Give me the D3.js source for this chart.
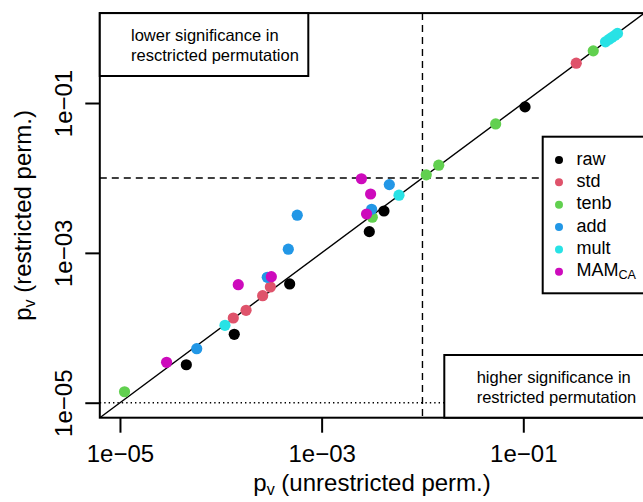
<!DOCTYPE html>
<html>
<head>
<meta charset="utf-8">
<script src="https://cdn.jsdelivr.net/npm/d3@7"></script>
<style>
  body { margin: 0; background: #fff; }
  svg { display: block; font-family: "Liberation Sans", Arial, sans-serif; }
</style>
</head>
<body>
<div id="chart"></div>
<script>
// p-values: unrestricted permutation (x) vs restricted permutation (y), per method
const methods = ['raw', 'std', 'tenb', 'add', 'mult', 'MAM'];
const methodColors = ['#000000', '#DF536B', '#61D04F', '#2297E6', '#28E2E5', '#CD0BBC'];

const rawUnres = [0.104, 0.00415, 0.00297, 0.000482, 0.000136, 4.55e-5];
const rawRes   = [0.0887, 0.00362, 0.00192, 0.000385, 8.18e-5, 3.21e-5];
const stdUnres = [0.335, 0.00031, 0.00026, 0.000178, 0.000133];
const stdRes   = [0.340, 0.000351, 0.000268, 0.000171, 0.000135];
const tenbUnres = [0.494, 0.0532, 0.0145, 0.0109, 0.00318, 1.11e-5];
const tenbRes   = [0.497, 0.0526, 0.0148, 0.0110, 0.00299, 1.40e-5];
const addUnres = [0.00469, 0.00313, 0.000573, 0.000467, 0.000289, 5.77e-5];
const addRes   = [0.00815, 0.00382, 0.00318, 0.00112, 0.000472, 5.26e-5];
const multUnres = [0.00585, 0.00011, 0.653, 0.708, 0.757, 0.811, 0.859];
const multRes   = [0.00588, 0.000108, 0.655, 0.706, 0.752, 0.800, 0.849];
const mamUnres = [0.00248, 0.00306, 0.00279, 0.000317, 0.000149, 2.9e-5];
const mamRes   = [0.00975, 0.0061, 0.0033, 0.000481, 0.000376, 3.46e-5];

const unresByMethod = [rawUnres, stdUnres, tenbUnres, addUnres, multUnres, mamUnres];
const resByMethod = [rawRes, stdRes, tenbRes, addRes, multRes, mamRes];

const tickValues = [1e-5, 1e-3, 1e-1];
const tickLabels = ['1e\u221205', '1e\u221203', '1e\u221201'];
const alphaLevel = 0.01;     // dashed reference lines
const minPossible = 1e-5;    // dotted reference line

const W = 643, H = 502;
const L = 99.8, R = 644.3, T = 13.1, B = 417.7;
const textColor = '#000';

const svg = d3.select('#chart').append('svg')
  .attr('width', W).attr('height', H)
  .attr('viewBox', `0 0 ${W} ${H}`);

const x = d3.scaleLog().domain([10 ** -5.2, 10 ** 0.2]).range([L, R]);
const y = d3.scaleLog().domain([10 ** -5.2, 10 ** 0.2]).range([B, T]);

svg.append('clipPath').attr('id', 'plot-clip')
  .append('rect').attr('x', L).attr('y', T).attr('width', R - L).attr('height', B - T);

const plot = svg.append('g').attr('clip-path', 'url(#plot-clip)');

// 1:1 line
plot.append('line')
  .attr('x1', x(10 ** -5.2)).attr('y1', y(10 ** -5.2))
  .attr('x2', x(10 ** 0.2)).attr('y2', y(10 ** 0.2))
  .attr('stroke', '#000').attr('stroke-width', 1.4);

// significance threshold lines
plot.append('line')
  .attr('x1', x(alphaLevel)).attr('x2', x(alphaLevel)).attr('y1', T).attr('y2', B)
  .attr('stroke', '#000').attr('stroke-width', 1.4).attr('stroke-dasharray', '7,5');
plot.append('line')
  .attr('x1', L).attr('x2', R).attr('y1', y(alphaLevel)).attr('y2', y(alphaLevel))
  .attr('stroke', '#000').attr('stroke-width', 1.4).attr('stroke-dasharray', '7,5');
plot.append('line')
  .attr('x1', L).attr('x2', R).attr('y1', y(minPossible)).attr('y2', y(minPossible))
  .attr('stroke', '#000').attr('stroke-width', 1.4).attr('stroke-dasharray', '1.4,3');

// points, one group per method
methods.forEach((m, i) => {
  const pts = unresByMethod[i].map((u, j) => ({ u, r: resByMethod[i][j] }));
  plot.selectAll(`.pt-${m}`)
    .data(pts)
    .enter()
    .append('circle')
    .attr('class', `pt-${m}`)
    .attr('cx', d => x(d.u))
    .attr('cy', d => y(d.r))
    .attr('r', 5.6)
    .attr('fill', methodColors[i]);
});

// axes
svg.append('g')
  .attr('transform', `translate(0,${B})`)
  .call(d3.axisBottom(x).tickValues(tickValues).tickFormat((d, i) => tickLabels[i]).tickSize(15).tickPadding(12))
  .call(sel => sel.select('.domain').remove())
  .call(sel => sel.selectAll('line').attr('stroke', '#000').attr('stroke-width', 2))
  .call(sel => sel.selectAll('text').attr('fill', textColor).attr('font-size', 24)
    .attr('font-family', '"Liberation Sans", Arial, sans-serif'));

svg.append('g')
  .attr('transform', `translate(${L},0)`)
  .call(d3.axisLeft(y).tickValues(tickValues).tickFormat((d, i) => tickLabels[i]).tickSize(14.5))
  .call(sel => sel.select('.domain').remove())
  .call(sel => sel.selectAll('line').attr('stroke', '#000').attr('stroke-width', 2))
  .call(sel => sel.selectAll('text')
    .attr('fill', textColor).attr('font-size', 24)
    .attr('font-family', '"Liberation Sans", Arial, sans-serif')
    .attr('transform', 'rotate(-90)')
    .attr('x', 0).attr('y', -28).attr('dy', 0)
    .attr('text-anchor', 'middle'));

// plot frame
svg.append('rect')
  .attr('x', L).attr('y', T).attr('width', R - L).attr('height', B - T)
  .attr('fill', 'none').attr('stroke', '#000').attr('stroke-width', 2);

// axis titles
const xTitle = svg.append('text')
  .attr('x', (L + R) / 2).attr('y', 491)
  .attr('text-anchor', 'middle').attr('font-size', 24).attr('fill', textColor);
xTitle.append('tspan').text('p');
xTitle.append('tspan').attr('font-size', 16).attr('dy', 4).text('v');
xTitle.append('tspan').attr('dy', -4).text(' (unrestricted perm.)');

const yTitle = svg.append('text')
  .attr('transform', `translate(30.7,${(T + B) / 2}) rotate(-90)`)
  .attr('text-anchor', 'middle').attr('font-size', 24).attr('fill', textColor);
yTitle.append('tspan').text('p');
yTitle.append('tspan').attr('font-size', 16).attr('dy', 4).text('v');
yTitle.append('tspan').attr('dy', -4).text(' (restricted perm.)');

// corner notes
function noteBox(x0, y0, w, h, lines, tx, baselines) {
  svg.append('rect').attr('x', x0).attr('y', y0).attr('width', w).attr('height', h)
    .attr('fill', '#fff').attr('stroke', '#000').attr('stroke-width', 2);
  lines.forEach((s, i) => {
    svg.append('text').attr('x', tx).attr('y', baselines[i])
      .attr('font-size', 16.5).attr('fill', textColor).text(s);
  });
}
noteBox(L, T, 308.3 - L, 76 - T, ['lower significance in', 'resctricted permutation'], 131, [40.5, 60.5]);
noteBox(444.3, 355, 220, B - 355, ['higher significance in', 'restricted permutation'], 476.7, [383, 403]);

// legend
const legend = svg.append('g');
legend.append('rect')
  .attr('x', 542.7).attr('y', 136.7).attr('width', 120).attr('height', 293.3 - 136.7)
  .attr('fill', '#fff').attr('stroke', '#000').attr('stroke-width', 2);
methods.forEach((m, i) => {
  const cy = 160 + i * 22.35;
  legend.append('circle').attr('cx', 559).attr('cy', cy).attr('r', 4).attr('fill', methodColors[i]);
  const t = legend.append('text').attr('x', 576.5).attr('y', cy + 4.5)
    .attr('font-size', 18).attr('fill', textColor);
  if (m === 'MAM') {
    t.append('tspan').text('MAM');
    t.append('tspan').attr('font-size', 12.6).attr('dy', 3).text('CA');
  } else {
    t.text(m);
  }
});
</script>
</body>
</html>
